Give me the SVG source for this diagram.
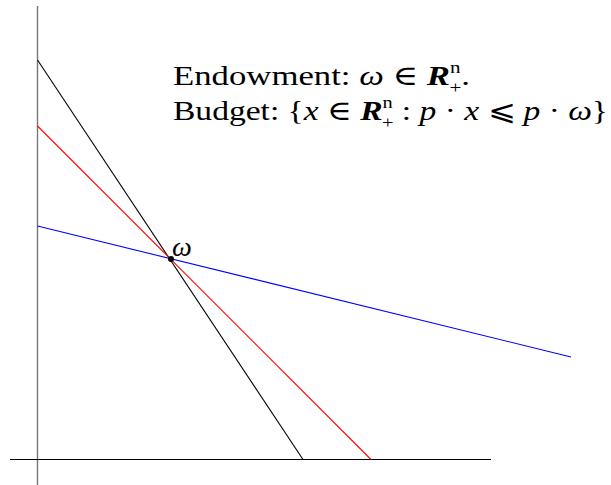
<svg xmlns="http://www.w3.org/2000/svg" width="611" height="485" viewBox="0 0 611 485">
<style>
.t{font-family:"Liberation Serif","DejaVu Serif",serif;font-size:28px;fill:#000}
.i{font-style:italic}
.b{font-weight:bold;font-style:italic}
.s{font-size:17px}
</style>
<rect width="611" height="485" fill="#fff"/>
<g id="axes">
<line x1="37.5" y1="6" x2="37.5" y2="485" stroke="#777" stroke-width="1.4"/>
<line x1="10" y1="459.5" x2="491" y2="459.5" stroke="#000" stroke-width="1.1"/>
</g>
<g id="connectors" fill="none" stroke-width="1.1">
<line x1="37.5" y1="60" x2="303" y2="459.5" stroke="#000"/>
<line x1="37.5" y1="126" x2="371" y2="459.5" stroke="#f00"/>
<line x1="37.5" y1="226" x2="571" y2="357" stroke="#00f"/>
</g>
<g id="omega">
<circle cx="171" cy="259" r="3" fill="#000"/>
<text x="172" y="256" class="t i" font-size="25">ω</text>
</g>
<g id="label">
<text x="173" y="85" class="t" textLength="297" lengthAdjust="spacingAndGlyphs">Endowment: <tspan class="i">ω</tspan> ∈ <tspan class="b">R</tspan><tspan class="s" dy="-12">n</tspan><tspan class="s" dx="-9" dy="20">+</tspan><tspan dy="-8">.</tspan></text>
<text x="173" y="120" class="t" textLength="435" lengthAdjust="spacingAndGlyphs">Budget: {<tspan class="i">x</tspan> ∈ <tspan class="b">R</tspan><tspan class="s" dy="-12">n</tspan><tspan class="s" dx="-9" dy="20">+</tspan><tspan dy="-8"> : </tspan><tspan class="i">p</tspan> · <tspan class="i">x</tspan> ⩽ <tspan class="i">p</tspan> · <tspan class="i">ω</tspan>}</text>
</g>
</svg>
